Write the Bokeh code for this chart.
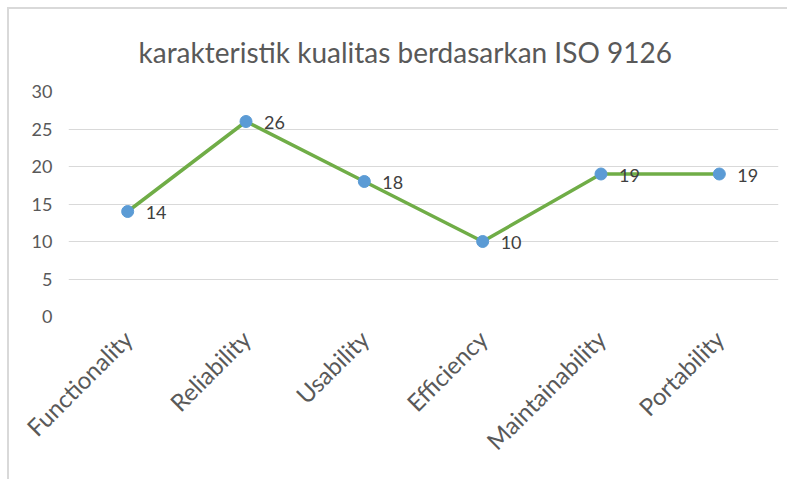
import math
from bokeh.plotting import figure
from bokeh.models import ColumnDataSource, Range1d, FixedTicker, LabelSet
from bokeh.core.properties import value
from bokeh.embed import file_html
from bokeh.resources import INLINE

categories = ["Functionality", "Reliability", "Usability", "Efficiency", "Maintainability", "Portability"]
values = [14, 26, 18, 10, 19, 19]
y_ticks = [0, 5, 10, 15, 20, 25, 30]
title_text = "karakteristik kualitas berdasarkan ISO 9126"

FONT = "Lato"
TXT = "#595959"

src = ColumnDataSource(dict(cat=categories, val=values, lab=[str(v) for v in values]))

p = figure(width=780, height=472, x_range=categories, y_range=Range1d(0, 30),
           output_backend="svg", toolbar_location=None,
           min_border_left=59, min_border_right=11, min_border_top=82, min_border_bottom=165)
p.styles = {"border-left": "2px solid #d9d9d9", "border-top": "2px solid #d9d9d9",
            "box-sizing": "border-box", "margin-left": "7px", "margin-top": "7px"}
p.outline_line_color = None

p.title.text = title_text
p.title.align = "left"
p.title.offset = 70
p.title.vertical_align = "top"
p.title.text_font = FONT
p.title.text_font_size = "28px"
p.title.text_font_style = "normal"
p.title.text_color = TXT
p.title.standoff = 42

p.line("cat", "val", source=src, line_color="#70ad47", line_width=3.5)
p.scatter("cat", "val", source=src, size=12, fill_color="#5b9bd5", line_color="#5b9bd5")
labels = LabelSet(x="cat", y="val", text="lab", source=src, x_offset=18, y_offset=-1,
                  text_baseline="middle", text_align="left", text_font=value(FONT),
                  text_font_size=value("18px"), text_color=value("#404040"))
p.add_layout(labels)

p.yaxis.ticker = FixedTicker(ticks=y_ticks)
p.yaxis.axis_line_color = None
p.yaxis.major_tick_line_color = None
p.yaxis.minor_tick_line_color = None
p.yaxis.major_label_standoff = 10
p.yaxis.major_label_text_font = FONT
p.yaxis.major_label_text_font_size = "18px"
p.yaxis.major_label_text_color = TXT

p.xaxis.axis_line_color = None
p.xaxis.major_tick_line_color = None
p.xaxis.major_label_orientation = math.pi / 4
p.xaxis.major_label_standoff = 12
p.xaxis.major_label_text_font = FONT
p.xaxis.major_label_text_font_size = "24px"
p.xaxis.major_label_text_color = TXT

p.xgrid.grid_line_color = None
p.ygrid.grid_line_color = "#d9d9d9"
p.ygrid.grid_line_width = 1

open("out.html", "w").write(file_html(p, INLINE))
